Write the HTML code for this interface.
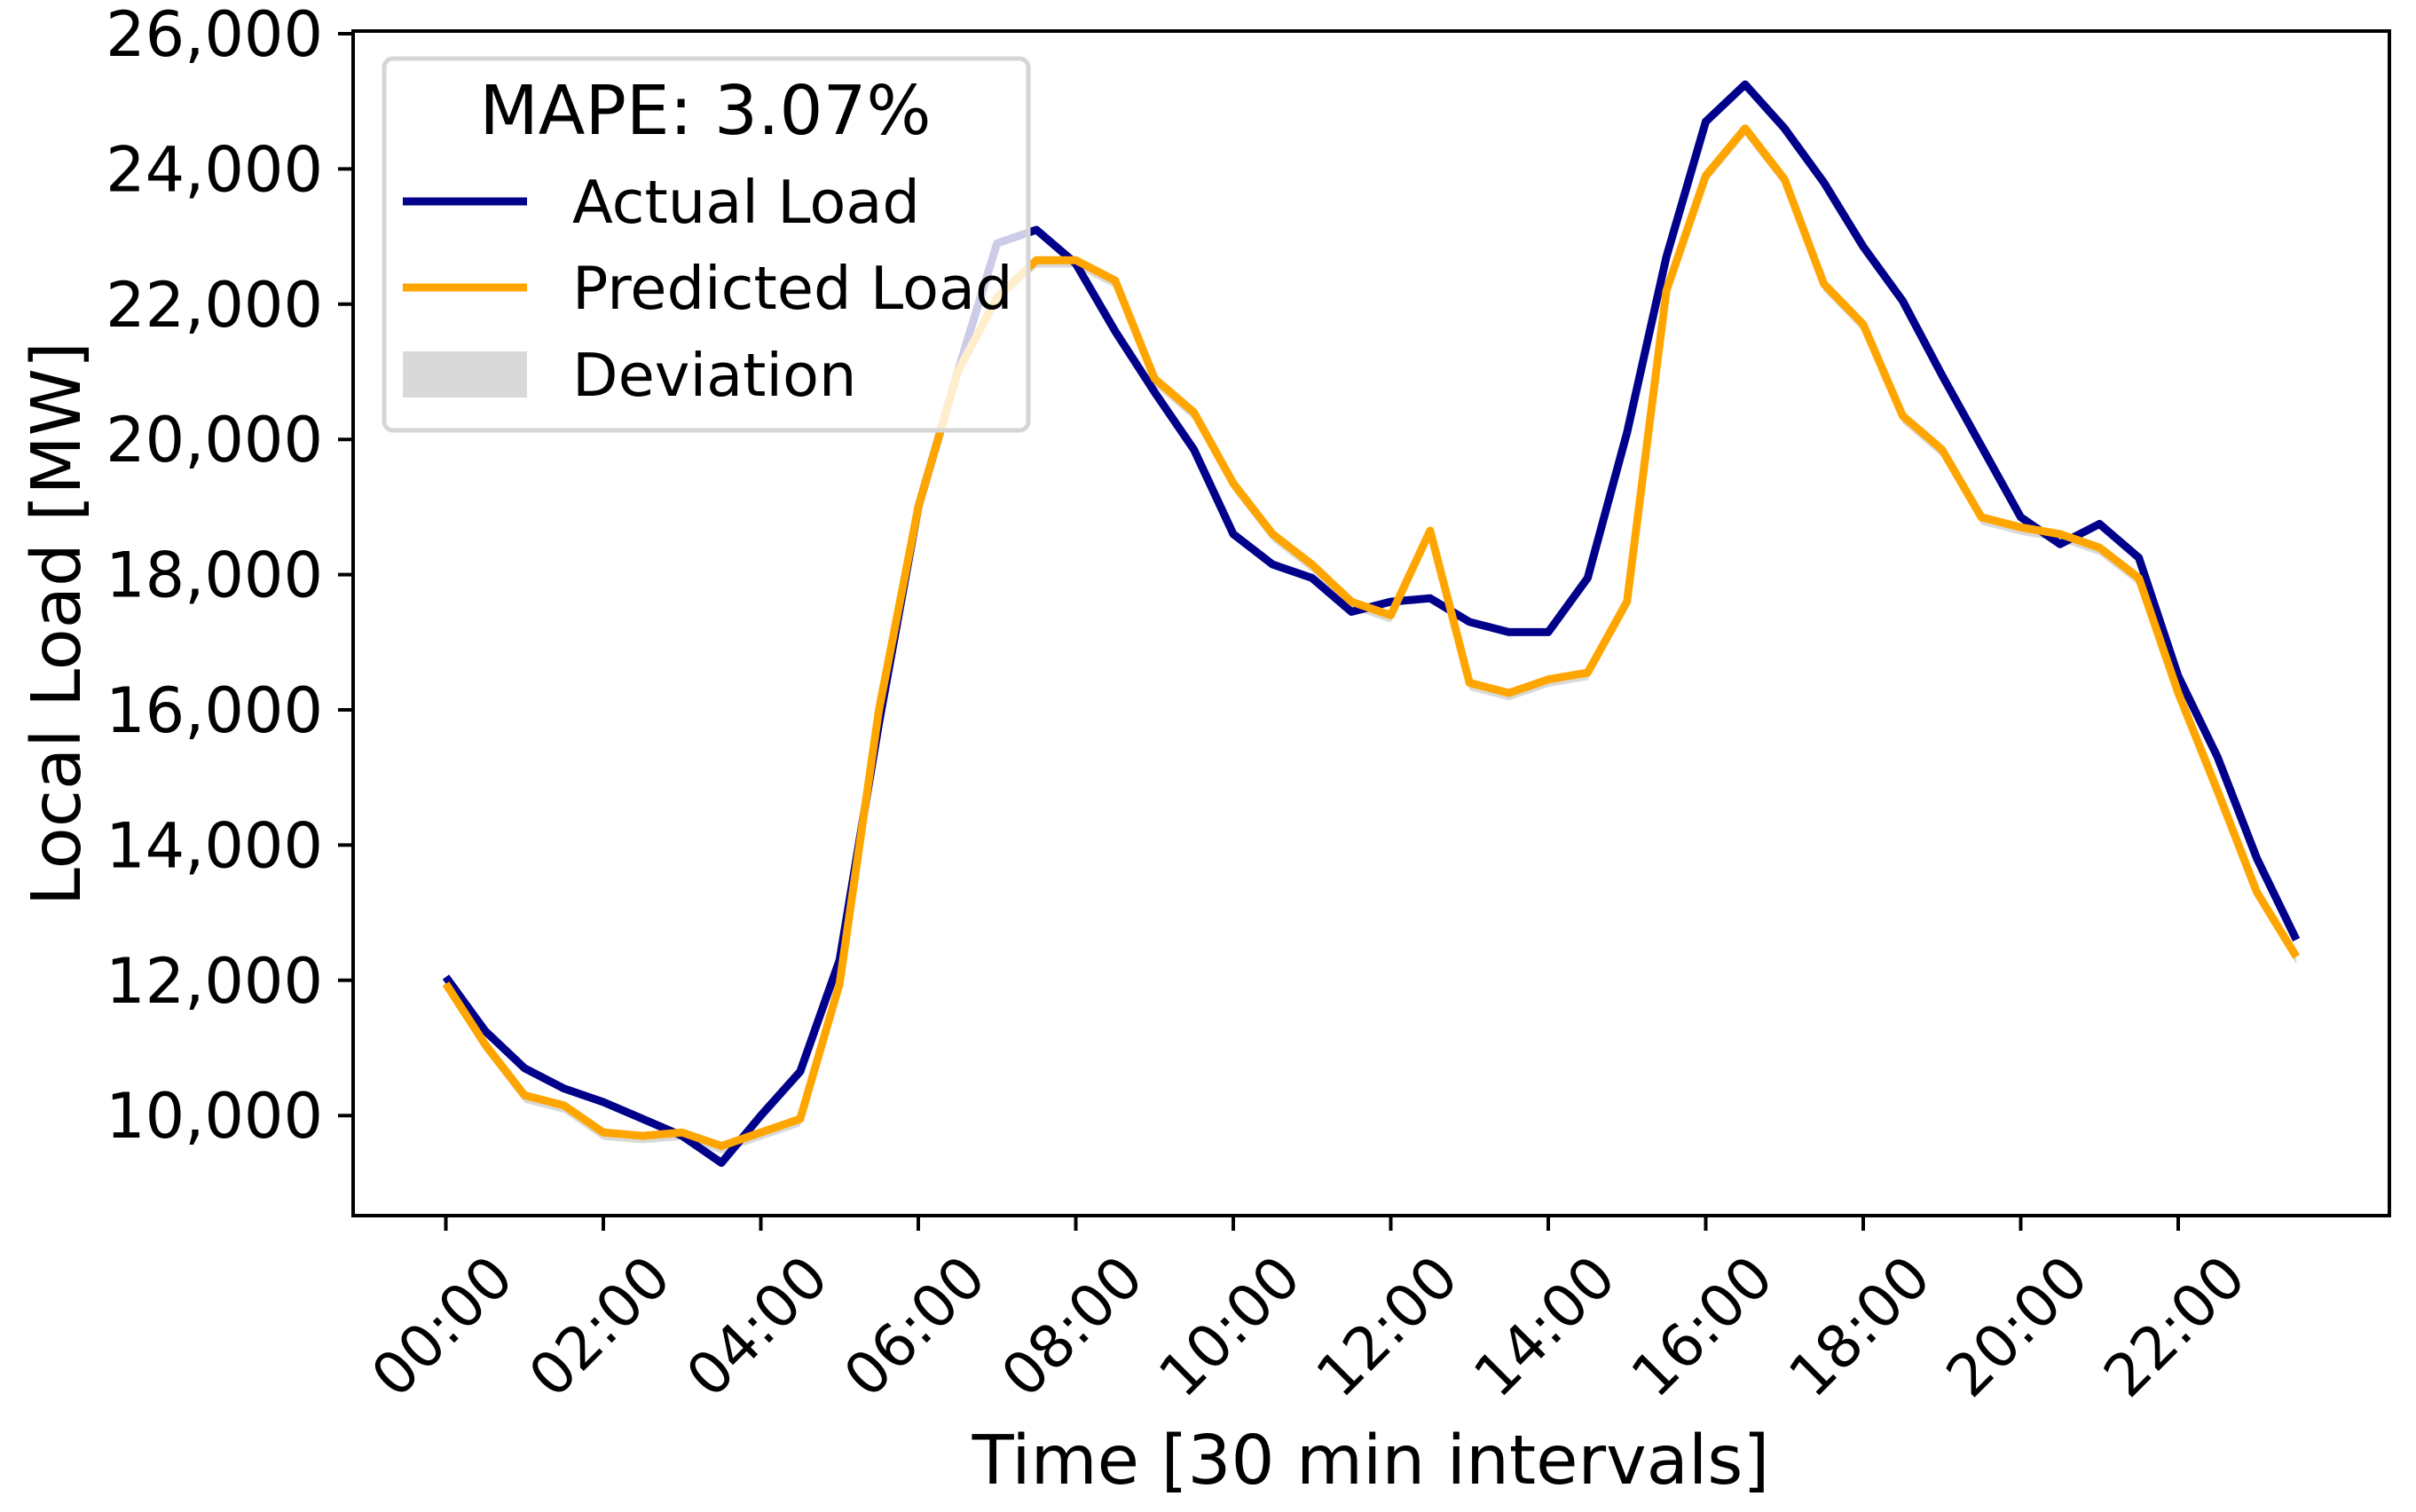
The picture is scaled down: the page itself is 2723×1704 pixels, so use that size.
<!DOCTYPE html>
<html><head><meta charset="utf-8"><style>
html,body{margin:0;padding:0;background:#fff}
svg{display:block}
text{font-family:"DejaVu Sans","Liberation Sans",sans-serif;fill:#000}
</style></head><body>
<svg id="chart" width="2723" height="1704" viewBox="0 0 2723 1704" xmlns="http://www.w3.org/2000/svg">
<g id="fill"></g>
<g id="lines"></g>
<rect x="398" y="35" width="2295" height="1335" fill="none" stroke="#000" stroke-width="4"/>
<g id="yticks"></g>
<g id="xticks"></g>
<text transform="translate(90,703) rotate(-90)" text-anchor="middle" font-size="77">Local Load [MW]</text>
<text x="1545" y="1672" text-anchor="middle" font-size="77">Time [30 min intervals]</text>
<g>
<rect x="433" y="66" width="726" height="419" rx="10" fill="#fff" fill-opacity="0.8" stroke="#d6d6d6" stroke-width="5"/>
<text x="795" y="151" text-anchor="middle" font-size="77">MAPE: 3.07%</text>
<line x1="454" y1="227" x2="594" y2="227" stroke="#00008b" stroke-width="9"/>
<text x="645" y="251" font-size="67">Actual Load</text>
<line x1="454" y1="324" x2="594" y2="324" stroke="#ffa500" stroke-width="9"/>
<text x="645" y="348" font-size="67">Predicted Load</text>
<rect x="454" y="396" width="140" height="52" fill="#d9d9d9"/>
<text x="645" y="446" font-size="67">Deviation</text>
</g>
</svg>
<script>
const actual=[12050,11250,10700,10400,10200,9950,9700,9300,10000,10650,12300,15800,19000,21000,22900,23100,22600,21600,20700,19850,18600,18150,17950,17450,17600,17650,17300,17150,17150,17950,20100,22700,24700,25250,24600,23800,22850,22050,20950,19900,18850,18450,18750,18250,16500,15300,13800,12600];
const predicted=[11950,11050,10300,10150,9750,9700,9750,9550,9750,9950,11950,16000,19000,21000,22100,22650,22650,22350,20900,20400,19350,18600,18150,17600,17400,18650,16400,16250,16450,16550,17600,22200,23900,24600,23850,22300,21700,20350,19850,18850,18700,18600,18400,17950,16250,14800,13300,12350];
const yTicks=[10000,12000,14000,16000,18000,20000,22000,24000,26000];
const xTickLabels=["00:00","02:00","04:00","06:00","08:00","10:00","12:00","14:00","16:00","18:00","20:00","22:00"];
const NS="http://www.w3.org/2000/svg";
const X=i=>502.5+i*44.375;
const Y=v=>38+(26000-v)*152.4/2000;
function mk(t,a,p){const e=document.createElementNS(NS,t);for(const k in a)e.setAttribute(k,a[k]);p.appendChild(e);return e;}
const fillG=document.getElementById('fill'),linesG=document.getElementById('lines');
let d=predicted.map((v,i)=>(i?'L':'M')+X(i)+','+Y(v+40)).join('');
for(let i=predicted.length-1;i>=0;i--)d+='L'+X(i)+','+Y(predicted[i]-110);
const f=mk('path',{d:d+'Z',fill:'#d9d9d9'},fillG);


const la=mk('path',{d:actual.map((v,i)=>(i?'L':'M')+X(i)+','+Y(v)).join(''),fill:'none',stroke:'#00008b','stroke-width':9,'stroke-linejoin':'round'},linesG);


const lp=mk('path',{d:predicted.map((v,i)=>(i?'L':'M')+X(i)+','+Y(v)).join(''),fill:'none',stroke:'#ffa500','stroke-width':9,'stroke-linejoin':'round'},linesG);


const yg=document.getElementById('yticks');
yTicks.forEach(v=>{
 const t=mk('line',{x1:381,x2:398,y1:Y(v),y2:Y(v),stroke:'#000','stroke-width':4},yg);
 
 
 const tx=mk('text',{x:364,y:Y(v)+25,'text-anchor':'end','font-size':70},yg);
 
 
 tx.textContent=v.toLocaleString('en-US');
});
const xg=document.getElementById('xticks');
xTickLabels.forEach((s,k)=>{
 const x=X(k*4);
 const t=mk('line',{x1:x,x2:x,y1:1370,y2:1387,stroke:'#000','stroke-width':4},xg);
 
 
 const tx=mk('text',{transform:`translate(${x-4},${1495}) rotate(-45)`,'text-anchor':'middle','dominant-baseline':'central','font-size':66},xg);
 
 
 tx.textContent=s;
});
</script>
</body></html>
